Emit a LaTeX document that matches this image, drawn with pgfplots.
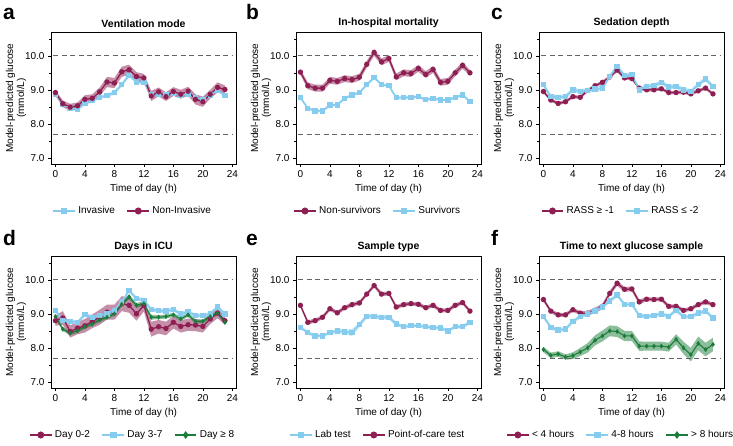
\documentclass[border=0pt]{standalone}
\usepackage{pgfplots}
\pgfplotsset{compat=1.18}
\usepackage{pgfplotstable}
\usepgfplotslibrary{fillbetween}
\usepackage{fontspec}
\setmainfont{Liberation Sans}
\definecolor{mar}{HTML}{8E1F53}
\definecolor{blu}{HTML}{86CCEE}
\definecolor{grn}{HTML}{1B7D3A}

% Panel a
\pgfplotstableread{
h m e
0 8.88 0.05
1 8.57 0.05
2 8.46 0.05
3 8.43 0.05
4 8.60 0.05
5 8.68 0.05
6 8.78 0.05
7 8.83 0.06
8 8.92 0.06
9 9.15 0.06
10 9.43 0.06
11 9.23 0.05
12 9.22 0.05
13 8.87 0.05
14 8.86 0.05
15 8.86 0.05
16 8.90 0.05
17 8.84 0.05
18 8.88 0.05
19 8.78 0.05
20 8.72 0.05
21 8.85 0.05
22 9.00 0.05
23 8.83 0.05
}\tAinv
\pgfplotstableread{
h m e
0 8.92 0.08
1 8.59 0.10
2 8.49 0.10
3 8.53 0.10
4 8.72 0.12
5 8.75 0.12
6 8.94 0.13
7 9.23 0.15
8 9.20 0.15
9 9.53 0.15
10 9.59 0.15
11 9.39 0.13
12 9.35 0.12
13 8.82 0.15
14 8.94 0.13
15 8.80 0.13
16 8.95 0.13
17 8.87 0.13
18 8.96 0.13
19 8.72 0.15
20 8.65 0.15
21 8.87 0.13
22 9.07 0.15
23 9.01 0.12
}\tAnon
% Panel b
\pgfplotstableread{
h m e
0 9.52 0.08
1 9.12 0.10
2 9.05 0.10
3 9.05 0.10
4 9.28 0.10
5 9.25 0.10
6 9.33 0.10
7 9.30 0.10
8 9.37 0.10
9 9.75 0.10
10 10.10 0.10
11 9.82 0.10
12 9.92 0.10
13 9.38 0.10
14 9.50 0.10
15 9.48 0.10
16 9.63 0.10
17 9.45 0.10
18 9.60 0.10
19 9.22 0.10
20 9.25 0.10
21 9.50 0.10
22 9.72 0.10
23 9.50 0.08
}\tBnon
\pgfplotstableread{
h m e
0 8.77 0.04
1 8.46 0.04
2 8.38 0.04
3 8.38 0.04
4 8.55 0.04
5 8.56 0.04
6 8.75 0.04
7 8.85 0.04
8 8.92 0.04
9 9.15 0.04
10 9.36 0.04
11 9.15 0.04
12 9.12 0.04
13 8.77 0.04
14 8.77 0.04
15 8.78 0.04
16 8.80 0.04
17 8.71 0.04
18 8.75 0.04
19 8.70 0.04
20 8.70 0.04
21 8.78 0.04
22 8.85 0.04
23 8.65 0.04
}\tBsur
% Panel c
\pgfplotstableread{
h m e
0 8.95 0.05
1 8.70 0.05
2 8.60 0.05
3 8.65 0.05
4 8.80 0.05
5 8.78 0.05
6 8.98 0.05
7 9.12 0.05
8 9.22 0.05
9 9.38 0.05
10 9.58 0.06
11 9.35 0.05
12 9.33 0.05
13 9.05 0.05
14 9.00 0.05
15 9.00 0.05
16 9.03 0.05
17 8.92 0.05
18 8.92 0.05
19 8.93 0.05
20 8.88 0.05
21 8.97 0.05
22 9.05 0.05
23 8.88 0.05
}\tCa
\pgfplotstableread{
h m e
0 9.15 0.07
1 8.80 0.07
2 8.78 0.07
3 8.80 0.07
4 9.00 0.07
5 8.95 0.07
6 8.98 0.07
7 9.02 0.08
8 9.05 0.08
9 9.40 0.07
10 9.68 0.07
11 9.42 0.07
12 9.45 0.07
13 9.00 0.07
14 9.10 0.07
15 9.12 0.07
16 9.22 0.07
17 9.08 0.07
18 9.10 0.07
19 9.00 0.07
20 8.95 0.07
21 9.15 0.07
22 9.32 0.07
23 9.10 0.07
}\tCb
% Panel d
\pgfplotstableread{
h m e
0 8.80 0.15
1 8.88 0.20
2 8.48 0.18
3 8.58 0.18
4 8.65 0.20
5 8.78 0.20
6 8.90 0.22
7 9.05 0.22
8 9.05 0.22
9 9.30 0.22
10 9.25 0.22
11 9.00 0.20
12 9.25 0.18
13 8.55 0.22
14 8.62 0.20
15 8.57 0.20
16 8.75 0.18
17 8.63 0.18
18 8.68 0.18
19 8.67 0.18
20 8.63 0.18
21 8.85 0.15
22 9.02 0.15
23 8.80 0.12
}\tDa
\pgfplotstableread{
h m e
0 9.10 0.06
1 8.80 0.06
2 8.78 0.06
3 8.75 0.06
4 8.98 0.06
5 8.90 0.06
6 8.95 0.06
7 9.00 0.06
8 9.10 0.06
9 9.35 0.06
10 9.68 0.06
11 9.45 0.06
12 9.40 0.06
13 9.12 0.06
14 9.10 0.06
15 9.08 0.06
16 9.12 0.06
17 9.00 0.06
18 9.05 0.06
19 8.95 0.06
20 8.95 0.06
21 9.00 0.06
22 9.20 0.06
23 9.00 0.06
}\tDb
\pgfplotstableread{
h m e
0 8.92 0.06
1 8.55 0.06
2 8.43 0.06
3 8.50 0.06
4 8.62 0.06
5 8.70 0.06
6 8.82 0.06
7 8.90 0.06
8 9.00 0.06
9 9.28 0.07
10 9.50 0.07
11 9.25 0.07
12 9.30 0.07
13 8.90 0.07
14 8.90 0.06
15 8.92 0.06
16 8.97 0.06
17 8.85 0.06
18 8.97 0.06
19 8.78 0.06
20 8.78 0.06
21 8.92 0.06
22 9.02 0.06
23 8.75 0.06
}\tDc
% Panel e
\pgfplotstableread{
h m e
0 8.60 0.05
1 8.45 0.05
2 8.35 0.05
3 8.35 0.05
4 8.45 0.05
5 8.50 0.06
6 8.47 0.07
7 8.45 0.10
8 8.68 0.08
9 8.93 0.07
10 8.92 0.07
11 8.90 0.07
12 8.90 0.07
13 8.70 0.06
14 8.62 0.05
15 8.65 0.05
16 8.65 0.05
17 8.62 0.05
18 8.60 0.05
19 8.58 0.05
20 8.50 0.05
21 8.62 0.05
22 8.62 0.05
23 8.75 0.06
}\tEa
\pgfplotstableread{
h m e
0 9.25 0.05
1 8.75 0.06
2 8.80 0.06
3 8.90 0.06
4 9.15 0.06
5 9.03 0.06
6 9.18 0.06
7 9.27 0.06
8 9.32 0.06
9 9.58 0.06
10 9.83 0.06
11 9.58 0.06
12 9.60 0.06
13 9.20 0.06
14 9.27 0.06
15 9.30 0.06
16 9.28 0.06
17 9.18 0.06
18 9.25 0.06
19 9.10 0.06
20 9.10 0.06
21 9.25 0.06
22 9.33 0.06
23 9.08 0.05
}\tEb
% Panel f
\pgfplotstableread{
h m e
0 9.42 0.06
1 9.08 0.06
2 8.97 0.06
3 8.97 0.06
4 9.12 0.06
5 9.02 0.06
6 9.02 0.07
7 9.10 0.08
8 9.22 0.08
9 9.60 0.08
10 9.90 0.08
11 9.72 0.07
12 9.73 0.07
13 9.35 0.07
14 9.43 0.06
15 9.42 0.06
16 9.43 0.06
17 9.22 0.06
18 9.22 0.06
19 9.10 0.06
20 9.15 0.06
21 9.27 0.06
22 9.35 0.06
23 9.27 0.06
}\tFa
\pgfplotstableread{
h m e
0 8.92 0.06
1 8.60 0.06
2 8.52 0.06
3 8.55 0.06
4 8.78 0.06
5 8.92 0.06
6 9.00 0.06
7 9.08 0.06
8 9.20 0.06
9 9.38 0.06
10 9.55 0.06
11 9.28 0.06
12 9.28 0.06
13 8.95 0.06
14 8.92 0.06
15 8.95 0.06
16 9.00 0.06
17 8.93 0.06
18 9.10 0.06
19 8.92 0.06
20 8.92 0.06
21 9.02 0.06
22 9.08 0.06
23 8.88 0.06
}\tFb
\pgfplotstableread{
h m e
0 7.95 0.08
1 7.78 0.08
2 7.82 0.08
3 7.73 0.08
4 7.77 0.10
5 7.88 0.12
6 8.00 0.14
7 8.22 0.15
8 8.35 0.16
9 8.50 0.16
10 8.48 0.16
11 8.35 0.15
12 8.35 0.15
13 8.05 0.14
14 8.05 0.13
15 8.05 0.13
16 8.05 0.13
17 8.02 0.13
18 8.25 0.15
19 8.00 0.18
20 7.80 0.20
21 8.13 0.20
22 7.95 0.20
23 8.10 0.20
}\tFc

\newcommand{\band}[3]{%
  \addplot[name path=#3U, draw=none, forget plot] table[x=h, y expr=\thisrow{m}+\thisrow{e}] {#1};
  \addplot[name path=#3L, draw=none, forget plot] table[x=h, y expr=\thisrow{m}-\thisrow{e}] {#1};
  \addplot[fill=#2, fill opacity=0.5, draw=none, forget plot] fill between[of=#3U and #3L];
}

\pgfplotsset{
  panel/.style={
    width=185pt, height=132pt, scale only axis,
    xmin=-0.6, xmax=24.5, ymin=6.82, ymax=10.7,
    xtick={0,4,...,24}, ytick={7,8,9,10}, minor ytick={7.5,8.5,9.5,10.5},
    tick align=outside, tick pos=left,
    major tick length=3pt, minor tick length=2pt,
    axis line style={line width=0.7pt},
    every tick/.style={black, line width=0.6pt},
    yticklabel style={/pgf/number format/.cd, fixed, fixed zerofill, precision=1},
    /pgf/number format/assume math mode=true,
    ticklabel style={font=\fontsize{10}{12}\selectfont},
    label style={font=\fontsize{10}{11}\selectfont},
    xlabel={Time of day (h)},
    ylabel={Model-predicted glucose\\(mmol/L)},
    ylabel style={align=center, at={(axis description cs:-0.189,0.5)}, anchor=center, inner sep=0pt},
    title style={font=\fontsize{10.5}{12}\selectfont\bfseries, yshift=-5pt},
    legend style={draw=none, fill=none, legend columns=-1, at={(0.44,-0.356)}, anchor=center,
      font=\fontsize{10}{12}\selectfont,
      /tikz/every even column/.append style={column sep=9pt}},
    legend cell align=left,
    legend image code/.code={\draw[mark repeat=2, mark phase=2, ##1, line width=2.8pt] plot coordinates {(0cm,0cm) (0.38cm,0cm) (0.76cm,0cm)};},
    clip=false,
  },
  refl/.style={black!60, line width=1pt, dash pattern=on 5pt off 3.5pt, forget plot},
  smar/.style={mar, line width=1.3pt, mark=*, mark size=2pt, mark options={solid}},
  sblu/.style={blu, line width=1.6pt, mark=square*, mark size=1.9pt, mark options={solid}},
  sgrn/.style={grn, line width=1.1pt, mark=diamond*, mark size=1.6pt, mark options={solid}},
}
\newcommand{\refs}{%
  \addplot[refl] coordinates {(-0.3,10) (24,10)};
  \addplot[refl] coordinates {(-0.3,7.7) (24,7.7)};
}

\begin{document}
\begin{tikzpicture}
\node[anchor=base west, inner sep=0, font=\fontsize{21}{21}\selectfont\bfseries] at (3pt,425pt) {a};
\node[anchor=base west, inner sep=0, font=\fontsize{21}{21}\selectfont\bfseries] at (246pt,425pt) {b};
\node[anchor=base west, inner sep=0, font=\fontsize{21}{21}\selectfont\bfseries] at (491pt,425pt) {c};
\node[anchor=base west, inner sep=0, font=\fontsize{21}{21}\selectfont\bfseries] at (3pt,200pt) {d};
\node[anchor=base west, inner sep=0, font=\fontsize{21}{21}\selectfont\bfseries] at (246pt,200pt) {e};
\node[anchor=base west, inner sep=0, font=\fontsize{21}{21}\selectfont\bfseries] at (491pt,200pt) {f};

% a
\begin{axis}[panel, at={(51pt,281pt)}, anchor=south west, title={Ventilation mode}]
\refs
\band{\tAinv}{blu}{ai}
\band{\tAnon}{mar}{an}
\addplot[sblu] table[x=h,y=m] {\tAinv}; \addlegendentry{Invasive}
\addplot[smar] table[x=h,y=m] {\tAnon}; \addlegendentry{Non-Invasive}
\end{axis}
% b
\begin{axis}[panel, at={(296pt,281pt)}, anchor=south west, title={In-hospital mortality}]
\refs
\band{\tBsur}{blu}{bs}
\band{\tBnon}{mar}{bn}
\addplot[smar] table[x=h,y=m] {\tBnon}; \addlegendentry{Non-survivors}
\addplot[sblu] table[x=h,y=m] {\tBsur}; \addlegendentry{Survivors}
\end{axis}
% c
\begin{axis}[panel, at={(539pt,281pt)}, anchor=south west, title={Sedation depth}]
\refs
\band{\tCb}{blu}{cb}
\band{\tCa}{mar}{ca}
\addplot[smar] table[x=h,y=m] {\tCa}; \addlegendentry{RASS ≥ -1}
\addplot[sblu] table[x=h,y=m] {\tCb}; \addlegendentry{RASS ≤ -2}
\end{axis}
% d
\begin{axis}[panel, at={(51pt,57pt)}, anchor=south west, title={Days in ICU}]
\refs
\band{\tDa}{mar}{da}
\band{\tDb}{blu}{db}
\band{\tDc}{grn}{dc}
\addplot[smar] table[x=h,y=m] {\tDa}; \addlegendentry{Day 0-2}
\addplot[sblu] table[x=h,y=m] {\tDb}; \addlegendentry{Day 3-7}
\addplot[sgrn] table[x=h,y=m] {\tDc}; \addlegendentry{Day ≥ 8}
\end{axis}
% e
\begin{axis}[panel, at={(296pt,57pt)}, anchor=south west, title={Sample type}]
\refs
\band{\tEa}{blu}{ea}
\band{\tEb}{mar}{eb}
\addplot[sblu] table[x=h,y=m] {\tEa}; \addlegendentry{Lab test}
\addplot[smar] table[x=h,y=m] {\tEb}; \addlegendentry{Point-of-care test}
\end{axis}
% f
\begin{axis}[panel, at={(539pt,57pt)}, anchor=south west, title={Time to next glucose sample}]
\refs
\band{\tFa}{mar}{fa}
\band{\tFb}{blu}{fb}
\band{\tFc}{grn}{fc}
\addplot[smar] table[x=h,y=m] {\tFa}; \addlegendentry{< 4 hours}
\addplot[sblu] table[x=h,y=m] {\tFb}; \addlegendentry{4-8 hours}
\addplot[sgrn] table[x=h,y=m] {\tFc}; \addlegendentry{> 8 hours}
\end{axis}
\pgfresetboundingbox
\useasboundingbox (0,0) rectangle (733pt,445pt);
\end{tikzpicture}
\end{document}
